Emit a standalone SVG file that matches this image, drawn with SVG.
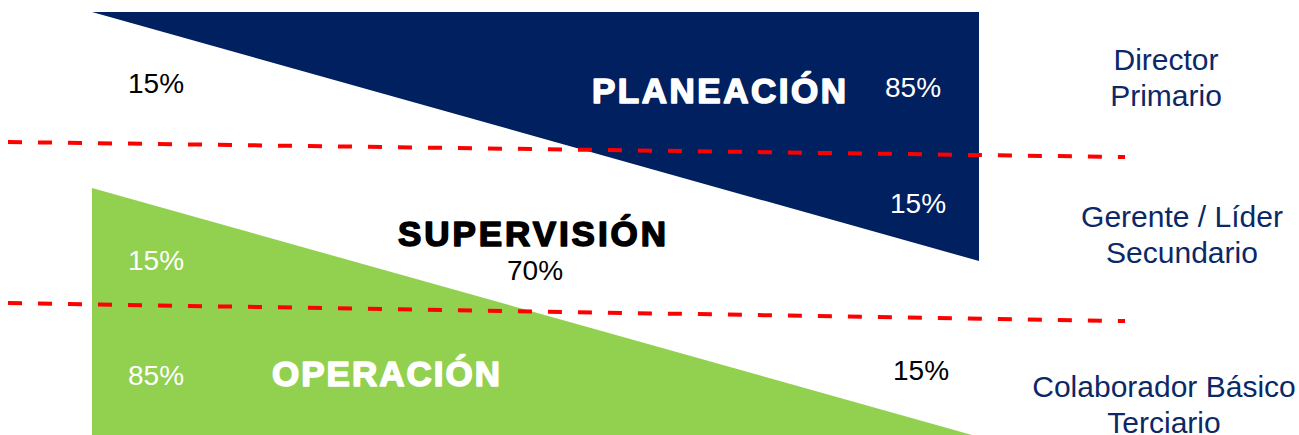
<svg xmlns="http://www.w3.org/2000/svg" width="1299" height="435" viewBox="0 0 1299 435">
<style>
.pct{font-family:"Liberation Sans",Arial,sans-serif;font-size:28px}
.big{font-family:"Liberation Sans",Arial,sans-serif;font-size:35px;font-weight:bold;stroke-width:1.6px;stroke-linejoin:round}
.lbl{font-family:"Liberation Sans",Arial,sans-serif;font-size:30px;fill:#0b2867;text-anchor:middle}
.w{fill:#ffffff}
.k{fill:#000000}
.dash{fill:none;stroke:#ff0000;stroke-width:4;stroke-dasharray:14 16}
</style>
<rect width="1299" height="435" fill="#ffffff"/>
<g id="planeacion">
<polygon points="92,12 979,12 979,261" fill="#002060"/>
<text class="big w" x="592" y="103" stroke="#ffffff" textLength="254" lengthAdjust="spacing">PLANEACIÓN</text>
<text class="pct w" x="885" y="97">85%</text>
<text class="pct w" x="890" y="213">15%</text>
</g>
<g id="operacion">
<polygon points="92,188 972,435 92,435" fill="#92d050"/>
<text class="big w" x="272" y="386" stroke="#ffffff" textLength="228" lengthAdjust="spacing">OPERACIÓN</text>
<text class="pct w" x="128" y="270">15%</text>
<text class="pct w" x="128" y="385">85%</text>
</g>
<g id="supervision">
<text class="big k" x="398" y="246" stroke="#000000" textLength="268" lengthAdjust="spacing">SUPERVISIÓN</text>
<text class="pct k" x="507" y="280">70%</text>
<text class="pct k" x="128" y="93">15%</text>
<text class="pct k" x="893" y="380">15%</text>
</g>
<g id="connectors">
<line class="dash" x1="8" y1="142" x2="1125" y2="157"/>
<line class="dash" x1="8" y1="303" x2="1125" y2="321"/>
</g>
<g id="labels">
<text class="lbl" x="1166" y="70">Director</text>
<text class="lbl" x="1166" y="106">Primario</text>
<text class="lbl" x="1182" y="227">Gerente / Líder</text>
<text class="lbl" x="1182" y="263">Secundario</text>
<text class="lbl" x="1164" y="397">Colaborador Básico</text>
<text class="lbl" x="1164" y="433">Terciario</text>
</g>
</svg>
